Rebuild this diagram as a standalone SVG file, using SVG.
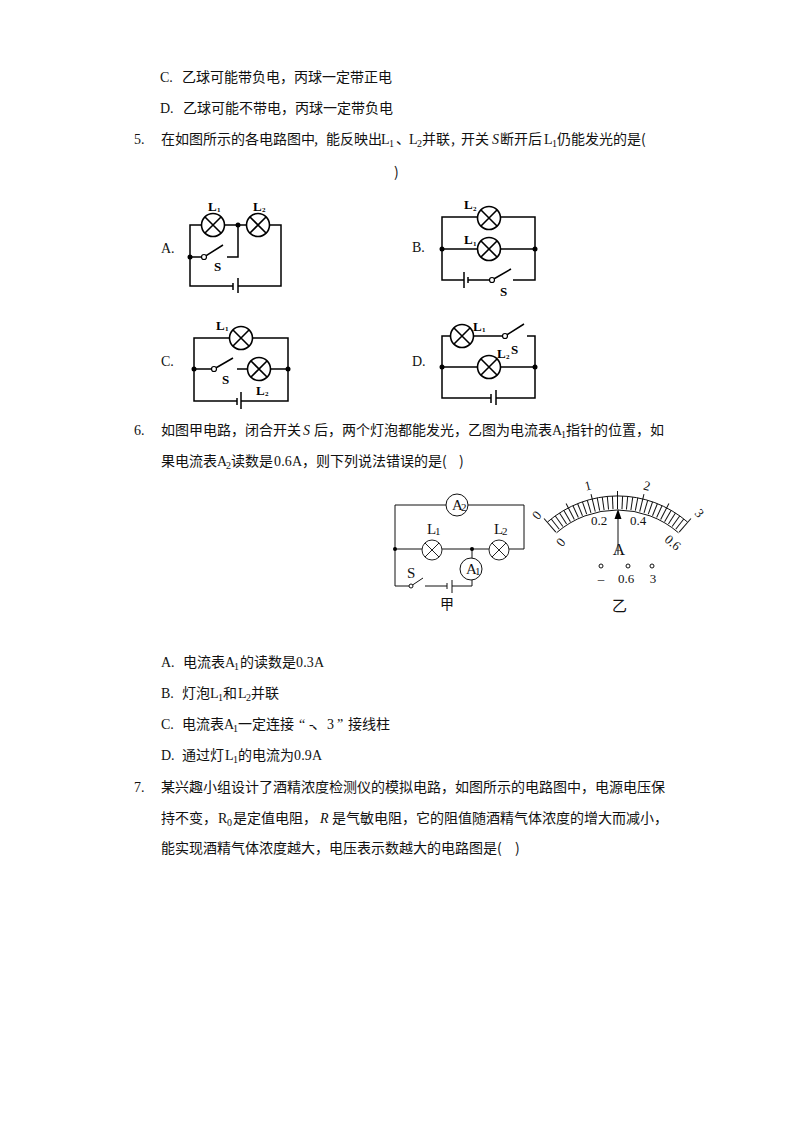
<svg xmlns="http://www.w3.org/2000/svg" width="794" height="1123" viewBox="0 0 794 1123">
<style>
text{font-family:"Noto Sans CJK SC","Liberation Serif",sans-serif;font-size:14px;fill:#111}
.l{font-family:"Liberation Serif","Noto Sans CJK SC",serif}
.i{font-family:"Liberation Serif",serif;font-style:italic}
.u{font-family:"Liberation Serif",serif;font-size:10px}
.b{font-family:"Liberation Serif",serif;font-weight:bold;font-size:13px;fill:#000}
.bs{font-family:"Liberation Serif",serif;font-weight:bold;font-size:7px;fill:#000}
.t{font-family:"Liberation Serif",serif;font-size:13px}
.j{font-family:"Liberation Serif",serif;font-size:15px}
.ts{font-family:"Liberation Serif",serif;font-size:11px}
.w{fill:none;stroke:#000;stroke-width:1.5}
.n{fill:none;stroke:#111;stroke-width:1}
.d{fill:#000}
.o{fill:#fff;stroke:#000;stroke-width:1.2}
</style>
<defs>
<g id="lamp"><circle r="11.5" fill="#fff" stroke="#000" stroke-width="1.6"/><path d="M-8-8L8 8M8-8L-8 8" stroke="#000" stroke-width="1.6"/></g>
<g id="lamp2"><circle r="10" fill="#fff" stroke="#222" stroke-width="1"/><path d="M-7-7L7 7M7-7L-7 7" stroke="#222" stroke-width="1"/></g>
<line id="tk" x1="617.5" y1="509" x2="617.5" y2="496" stroke="#111" stroke-width="1"/>
<line id="tj" x1="617.5" y1="509" x2="617.5" y2="491" stroke="#111" stroke-width="1"/>
</defs>

<g id="line-c"><text class="l" x="160" y="82">C.</text><text x="182" y="82">乙球可能带负电，丙球一定带正电</text></g>
<g id="line-d"><text class="l" x="160" y="113">D.</text><text x="183" y="113">乙球可能不带电，丙球一定带负电</text></g>

<g id="q5">
<text class="l" x="134" y="144">5.</text>
<text x="161" y="144">在如图所示的各电路图中</text><text x="314" y="144">,</text><text x="326" y="144">能反映出</text>
<text class="l" x="381" y="144">L</text><text class="u" x="389" y="147">1</text><text x="396" y="144">、</text>
<text class="l" x="409" y="144">L</text><text class="u" x="417" y="147">2</text><text x="422" y="144">并联</text><text x="451" y="144">,</text><text x="461" y="144">开关</text>
<text class="i" x="492" y="144">S</text><text x="500" y="144">断开后</text>
<text class="l" x="544" y="144">L</text><text class="u" x="552" y="147">1</text><text x="557" y="144">仍能发光的是(</text>
<text x="394" y="177">)</text>
</g>

<g id="circuit-a">
<text class="l" x="161" y="253">A.</text>
<path class="w" d="M190 257V225H204M224 225H246M270 225H281V286H238M233 286H190V257H204M227 257H238V225"/>
<path class="w" d="M204 257L223 245M233 283V290M238 278V293"/>
<use href="#lamp" x="213" y="225"/><use href="#lamp" x="258" y="225"/>
<circle class="d" cx="190" cy="257" r="2.5"/><circle class="d" cx="238" cy="225" r="2.5"/>
<circle class="o" cx="204" cy="257" r="2.5"/>
<text class="b" x="208" y="211">L</text><text class="bs" x="217" y="212">1</text>
<text class="b" x="253" y="211">L</text><text class="bs" x="262" y="212">2</text>
<text class="b" x="214" y="271">S</text>
</g>

<g id="circuit-b">
<text class="l" x="412" y="252">B.</text>
<path class="w" d="M477 217H442V280H464M468 280H492M513 280H535V217H500M442 249H477M500 249H535"/>
<path class="w" d="M492 280L511 269M464 272V288M468 277V283"/>
<use href="#lamp" x="489" y="218"/><use href="#lamp" x="489" y="249"/>
<circle class="d" cx="442" cy="249" r="2.5"/><circle class="d" cx="535" cy="249" r="2.5"/>
<circle class="o" cx="492" cy="280" r="2.5"/>
<text class="b" x="464" y="209">L</text><text class="bs" x="473" y="211">2</text>
<text class="b" x="464" y="244">L</text><text class="bs" x="473" y="246">1</text>
<text class="b" x="500" y="296">S</text>
</g>

<g id="circuit-c">
<text class="l" x="161" y="366">C.</text>
<path class="w" d="M230 338H194V401H237M241 401H288V338H252M194 369H214M237 369H248M270 369H288"/>
<path class="w" d="M214 369L233 358M237 398V405M241 392V409"/>
<use href="#lamp" x="241" y="338"/><use href="#lamp" x="259" y="369"/>
<circle class="d" cx="194" cy="369" r="2.5"/><circle class="d" cx="288" cy="369" r="2.5"/>
<circle class="o" cx="214" cy="369" r="2.5"/>
<text class="b" x="216" y="330">L</text><text class="bs" x="225" y="331">1</text>
<text class="b" x="222" y="384">S</text>
<text class="b" x="256" y="395">L</text><text class="bs" x="265" y="396">2</text>
</g>

<g id="circuit-d">
<text class="l" x="412" y="366">D.</text>
<path class="w" d="M452 336H442V398H491M496 398H535V336H527M473 336H505M442 367H478M500 367H535"/>
<path class="w" d="M505 336L524 324M491 394V403M496 390V405"/>
<use href="#lamp" x="462" y="336"/><use href="#lamp" x="489" y="367"/>
<circle class="d" cx="442" cy="367" r="2.5"/><circle class="d" cx="535" cy="367" r="2.5"/>
<circle class="o" cx="505" cy="336" r="2.5"/>
<text class="b" x="473" y="331">L</text><text class="bs" x="482" y="332">1</text>
<text class="b" x="511" y="354">S</text>
<text class="b" x="497" y="358">L</text><text class="bs" x="506" y="359">2</text>
</g>

<g id="q6">
<text class="l" x="134" y="435">6.</text>
<text x="161" y="435">如图甲电路，闭合开关</text><text class="i" x="303" y="435">S</text><text x="314" y="435">后，两个灯泡都能发光，乙图为电流表</text>
<text class="l" x="552" y="435">A</text><text class="u" x="561" y="438">1</text><text x="566" y="435">指针的位置，如</text>
<text x="161" y="466">果电流表</text><text class="l" x="217" y="466">A</text><text class="u" x="226" y="469">2</text><text x="231" y="466">读数是</text>
<text class="l" x="274" y="466" textLength="28" lengthAdjust="spacing">0.6A</text><text x="302" y="466">，则下列说法错误的是(</text><text x="459" y="466">)</text>
</g>

<g id="circuit-jia">
<path class="n" d="M395 549V505H446M468 505H524V549H509M395 549H422M442 549H489M395 549V586H411M425 586H447M452 586H472V580M472 549V558M423 578L411 586"/>
<path class="n" d="M447 583V589M452 580V593"/>
<circle cx="457" cy="505" r="11" fill="#fff" stroke="#111"/>
<circle cx="471" cy="569" r="11" fill="#fff" stroke="#111"/>
<use href="#lamp2" x="432" y="550"/><use href="#lamp2" x="499" y="550"/>
<circle class="d" cx="395" cy="549" r="2"/><circle class="d" cx="472" cy="549" r="2"/>
<circle cx="411" cy="586" r="2" fill="#fff" stroke="#111"/>
<text class="j" x="452" y="510">A</text><text class="ts" x="461" y="511">2</text>
<text class="j" x="466" y="574">A</text><text class="ts" x="475" y="575">1</text>
<text class="j" x="427" y="534">L</text><text class="ts" x="435" y="535">1</text>
<text class="j" x="494" y="534">L</text><text class="ts" x="502" y="535">2</text>
<text class="j" x="407" y="578">S</text>
<text x="440" y="609">甲</text>
</g>

<g id="meter-yi">
<path class="n" d="M547.5 522A107 107 0 0 1 687.5 522M556.500 532.800A93 93 0 0 1 678.500 532.800"/>
<use href="#tj" transform="rotate(-41 617.5 603)"/><use href="#tk" transform="rotate(-38.27 617.5 603)"/><use href="#tk" transform="rotate(-35.53 617.5 603)"/><use href="#tk" transform="rotate(-32.8 617.5 603)"/><use href="#tk" transform="rotate(-30.07 617.5 603)"/>
<use href="#tj" transform="rotate(-27.33 617.5 603)"/><use href="#tk" transform="rotate(-24.6 617.5 603)"/><use href="#tk" transform="rotate(-21.87 617.5 603)"/><use href="#tk" transform="rotate(-19.13 617.5 603)"/><use href="#tk" transform="rotate(-16.4 617.5 603)"/>
<use href="#tj" transform="rotate(-13.67 617.5 603)"/><use href="#tk" transform="rotate(-10.93 617.5 603)"/><use href="#tk" transform="rotate(-8.2 617.5 603)"/><use href="#tk" transform="rotate(-5.47 617.5 603)"/><use href="#tk" transform="rotate(-2.73 617.5 603)"/>
<use href="#tj"/><use href="#tk" transform="rotate(2.73 617.5 603)"/><use href="#tk" transform="rotate(5.47 617.5 603)"/><use href="#tk" transform="rotate(8.2 617.5 603)"/><use href="#tk" transform="rotate(10.93 617.5 603)"/>
<use href="#tj" transform="rotate(13.67 617.5 603)"/><use href="#tk" transform="rotate(16.4 617.5 603)"/><use href="#tk" transform="rotate(19.13 617.5 603)"/><use href="#tk" transform="rotate(21.87 617.5 603)"/><use href="#tk" transform="rotate(24.6 617.5 603)"/>
<use href="#tj" transform="rotate(27.33 617.5 603)"/><use href="#tk" transform="rotate(30.07 617.5 603)"/><use href="#tk" transform="rotate(32.8 617.5 603)"/><use href="#tk" transform="rotate(35.53 617.5 603)"/><use href="#tk" transform="rotate(38.27 617.5 603)"/><use href="#tj" transform="rotate(41 617.5 603)"/>
<path d="M618 555V515" stroke="#111" fill="none"/><path d="M618 509L614.500 519H621.500Z" fill="#000"/>
<text class="t" text-anchor="middle" transform="translate(540 518) rotate(-50)">0</text>
<text class="t" text-anchor="middle" transform="translate(589 490) rotate(-14)">1</text>
<text class="t" text-anchor="middle" transform="translate(646 490) rotate(14)">2</text>
<text class="t" text-anchor="middle" transform="translate(696 516) rotate(50)">3</text>
<text class="t" text-anchor="middle" transform="translate(564 545) rotate(-50)">0</text>
<text class="t" text-anchor="middle" x="599" y="525">0.2</text>
<text class="t" text-anchor="middle" x="638" y="525">0.4</text>
<text class="t" text-anchor="middle" transform="translate(670 546) rotate(40)">0.6</text>
<text class="l" text-anchor="middle" x="619" y="555" style="font-size:17px;font-weight:normal">A</text>
<circle cx="601" cy="566" r="2" fill="#fff" stroke="#111"/><circle cx="628" cy="566" r="2" fill="#fff" stroke="#111"/><circle cx="652" cy="566" r="2" fill="#fff" stroke="#111"/>
<text class="t" text-anchor="middle" x="601" y="583">–</text><text class="t" text-anchor="middle" x="626" y="583">0.6</text><text class="t" text-anchor="middle" x="653" y="583">3</text>
<text x="612" y="611" style="font-size:15px">乙</text>
</g>

<g id="q6-options">
<text class="l" x="161" y="667">A.</text><text x="183" y="667">电流表</text><text class="l" x="225" y="667">A</text><text class="u" x="234" y="670">1</text><text x="240" y="667">的读数是</text><text class="l" x="296" y="667" textLength="28" lengthAdjust="spacing">0.3A</text>
<text class="l" x="161" y="698">B.</text><text x="182" y="698">灯泡</text><text class="l" x="210" y="698">L</text><text class="u" x="218" y="701">1</text><text x="223" y="698">和</text><text class="l" x="238" y="698">L</text><text class="u" x="246" y="701">2</text><text x="251" y="698">并联</text>
<text class="l" x="161" y="729">C.</text><text x="182" y="729">电流表</text><text class="l" x="224" y="729">A</text><text class="u" x="233" y="732">1</text><text x="238" y="729">一定连接</text><text class="l" x="299" y="729">“</text><text class="l" x="309" y="729">-</text><text x="312" y="729">、</text><text class="l" x="327" y="729">3</text><text class="l" x="337" y="729">”</text><text x="348" y="729">接线柱</text>
<text class="l" x="161" y="760">D.</text><text x="182" y="760">通过灯</text><text class="l" x="225" y="760">L</text><text class="u" x="233" y="763">1</text><text x="238" y="760">的电流为</text><text class="l" x="294" y="760" textLength="28" lengthAdjust="spacing">0.9A</text>
</g>

<g id="q7">
<text class="l" x="134" y="792">7.</text>
<text x="161" y="792">某兴趣小组设计了酒精浓度检测仪的模拟电路，如图所示的电路图中，电源电压保</text>
<text x="161" y="823">持不变，</text><text class="l" x="218" y="823">R</text><text class="u" x="227" y="826">0</text><text x="233" y="823">是定值电阻，</text><text class="i" x="320" y="823">R</text><text x="332" y="823">是气敏电阻，它的阻值随酒精气体浓度的增大而减小，</text>
<text x="161" y="853">能实现酒精气体浓度越大，电压表示数越大的电路图是(</text><text x="515" y="853">)</text>
</g>
</svg>
